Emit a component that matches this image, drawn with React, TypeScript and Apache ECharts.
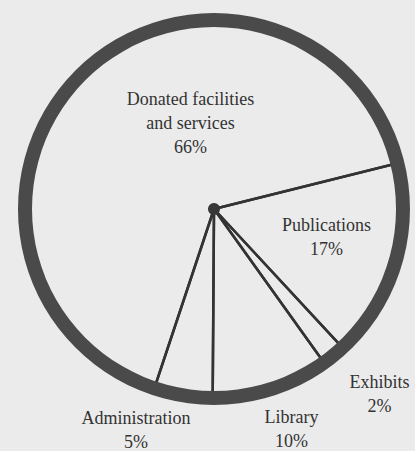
import React, { useEffect, useRef } from "react";
import * as echarts from "echarts";

// Slices in clockwise order starting from the Publications edge
const categories = ["Publications", "Exhibits", "Library", "Administration", "Donated facilities and services"];
const labelLines = [["Publications"], ["Exhibits"], ["Library"], ["Administration"], ["Donated facilities", "and services"]];
const values = [17, 2, 10, 5, 66];

// label anchor positions: x centre, y centre of first line (pixels)
const labelPos: [number, number][] = [
  [326.5, 225],
  [379.5, 382],
  [291.5, 417],
  [136, 418],
  [190.5, 99],
];
const LINE_GAP = 24;

const CX = 214;
const CY = 209;
const FONT = "Liberation Serif";

export default function App() {
  const ref = useRef<HTMLDivElement>(null);
  useEffect(() => {
    if (!ref.current) return;
    const chart = echarts.init(ref.current, undefined, { renderer: "svg" });
    const texts: any[] = [];
    categories.forEach((c, i) => {
      const lines = [...labelLines[i], `${values[i]}%`];
      lines.forEach((line, k) => {
        texts.push({
          type: "text",
          x: labelPos[i][0],
          y: labelPos[i][1] + k * LINE_GAP,
          silent: true,
          style: {
            text: line,
            font: `18px "${FONT}", serif`,
            fontFamily: FONT,
            fontSize: 18,
            fill: "#333333",
            align: "center",
            verticalAlign: "middle",
          },
        });
      });
    });
    chart.setOption({
      animation: false,
      backgroundColor: "#ebebeb",
      textStyle: { fontFamily: FONT },
      series: [
        {
          type: "pie",
          center: [CX, CY],
          radius: [0, 186],
          startAngle: 14,
          clockwise: true,
          avoidLabelOverlap: false,
          silent: true,
          itemStyle: {
            color: "rgba(0,0,0,0)",
            borderColor: "#333333",
            borderWidth: 2.5,
          },
          label: { show: false },
          labelLine: { show: false },
          emphasis: { disabled: true },
          data: categories.map((c, i) => ({ name: c, value: values[i] })),
        },
        {
          type: "pie",
          center: [CX, CY],
          radius: [182, 196],
          silent: true,
          label: { show: false },
          labelLine: { show: false },
          itemStyle: { color: "#4a4a4a", borderWidth: 0 },
          emphasis: { disabled: true },
          data: [{ name: "ring", value: 1 }],
        },
        {
          type: "pie",
          center: [CX, CY],
          radius: [0, 6],
          silent: true,
          label: { show: false },
          labelLine: { show: false },
          itemStyle: { color: "#383838", borderWidth: 0 },
          emphasis: { disabled: true },
          data: [{ name: "hub", value: 1 }],
        },
      ],
      graphic: texts,
    });
    return () => chart.dispose();
  }, []);
  return (
    <div
      ref={ref}
      style={{ position: "fixed", left: 0, top: 0, width: 415, height: 451 }}
    />
  );
}
